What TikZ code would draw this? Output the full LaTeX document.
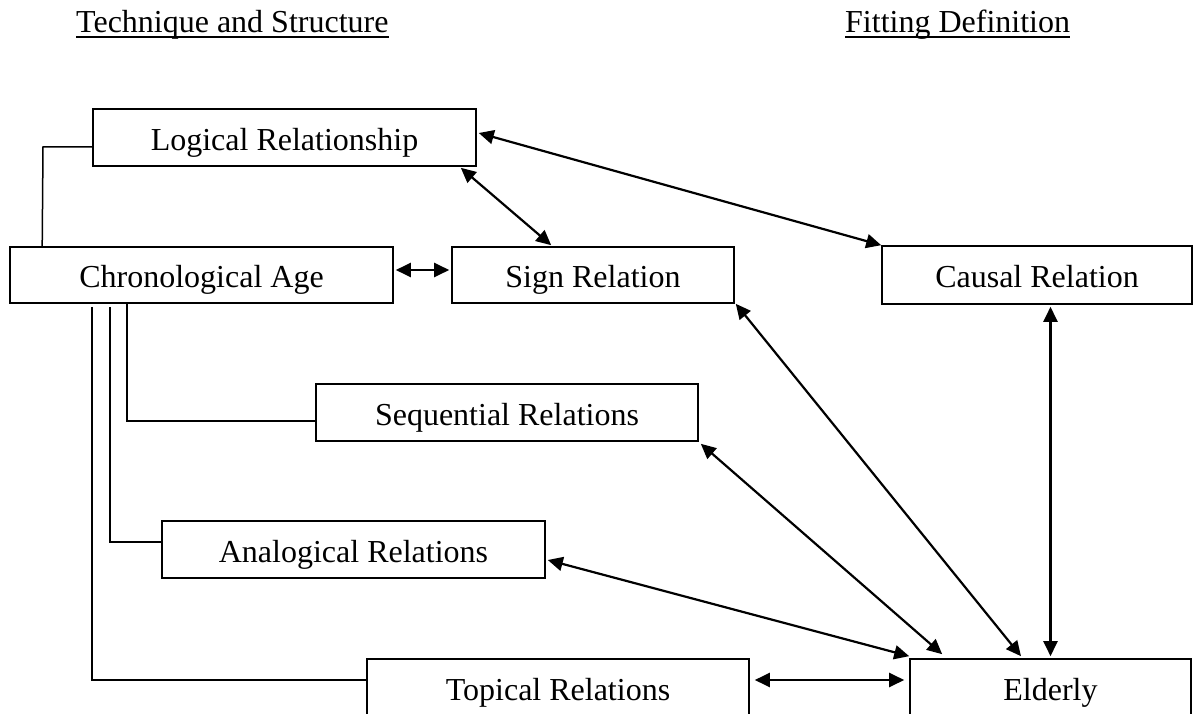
\documentclass[tikz,border=0pt]{standalone}
\usepackage{fontspec}
\setmainfont{Liberation Serif}
\usetikzlibrary{arrows.meta,calc}
\tikzset{
  box/.style={draw, line width=1.6pt, inner sep=0pt, text height=28pt, text depth=2pt, font=\fontsize{32}{38}\selectfont},
  ttl/.style={inner sep=0pt, font=\fontsize{32}{38}\selectfont},
  link/.style={line width=1.5pt},
  biarrow/.style={line width=2.2pt, {Triangle[length=15pt,width=14pt]}-{Triangle[length=15pt,width=14pt]}},
}
\begin{document}
\begin{tikzpicture}[x=1pt,y=-1pt]
\clip (0,0) rectangle (1195,714);
\fill[white] (0,0) rectangle (1195,714);
% titles
\node[ttl, anchor=base west] (t1) at (76,33) {Technique and Structure};
\node[ttl, anchor=base west] (t2) at (845,33) {Fitting Definition};
\draw[line width=1.6pt] ([yshift=-4pt]t1.base west) -- ([yshift=-4pt]t1.base east);
\draw[line width=1.6pt] ([yshift=-4pt]t2.base west) -- ([yshift=-4pt]t2.base east);
% boxes
\node[box, minimum width=383pt, minimum height=57pt] (logical) at (284.5,137.5) {Logical Relationship};
\node[box, minimum width=383pt, minimum height=56pt] (chrono) at (201.5,275) {Chronological Age};
\node[box, minimum width=282pt, minimum height=56pt] (sign) at (593,275) {Sign Relation};
\node[box, minimum width=310pt, minimum height=58pt] (causal) at (1037,275) {Causal Relation};
\node[box, minimum width=382pt, minimum height=57pt] (seq) at (507,412.5) {Sequential Relations};
\node[box, minimum width=383pt, minimum height=57pt] (anal) at (353.5,549.5) {Analogical Relations};
\node[box, minimum width=382pt, minimum height=56pt] (topic) at (558,687) {Topical Relations};
\node[box, minimum width=281pt, minimum height=56pt] (elder) at (1050.5,687) {Elderly};
% plain connectors
\coordinate (c1) at (43,147);
\draw[link] ([xshift=33pt]chrono.north west) -- (c1) -- (c1 -| logical.west);
\coordinate (c2) at (127,421);
\draw[link] (c2 |- chrono.south) -- (c2) -- (c2 -| seq.west);
\coordinate (c3) at (110,542);
\coordinate (c3t) at (110,307);
\draw[link] (c3t) -- (c3) -- (c3 -| anal.west);
\coordinate (c4) at (92,680);
\coordinate (c4t) at (92,307);
\draw[link] (c4t) -- (c4) -- (c4 -| topic.west);
% arrows
\draw[biarrow] ([xshift=2pt,yshift=5pt]chrono.east) -- ([xshift=-2pt,yshift=5pt]sign.west);
\draw[biarrow] ([xshift=-16pt,yshift=-1pt]logical.south east) -- ([xshift=100pt,yshift=1pt]sign.north west);
\draw[biarrow] ([xshift=2pt,yshift=4.5pt]logical.east) -- (causal.north west);
\draw[biarrow] ([yshift=-2pt]elder.north |- causal.south) -- ([yshift=2pt]elder.north);
\draw[biarrow] ([xshift=1pt]sign.south east) -- ([xshift=-29.5pt,yshift=2pt]elder.north);
\draw[biarrow] ([xshift=2pt,yshift=-2pt]seq.south east) -- ([xshift=33pt,yshift=4pt]elder.north west);
\draw[biarrow] ([xshift=2pt,yshift=-10.5pt]anal.east) -- ([yshift=2pt]elder.north west);
\draw[biarrow] ([xshift=5pt,yshift=7pt]topic.east) -- ([xshift=-5pt,yshift=7pt]elder.west);
\end{tikzpicture}
\end{document}
